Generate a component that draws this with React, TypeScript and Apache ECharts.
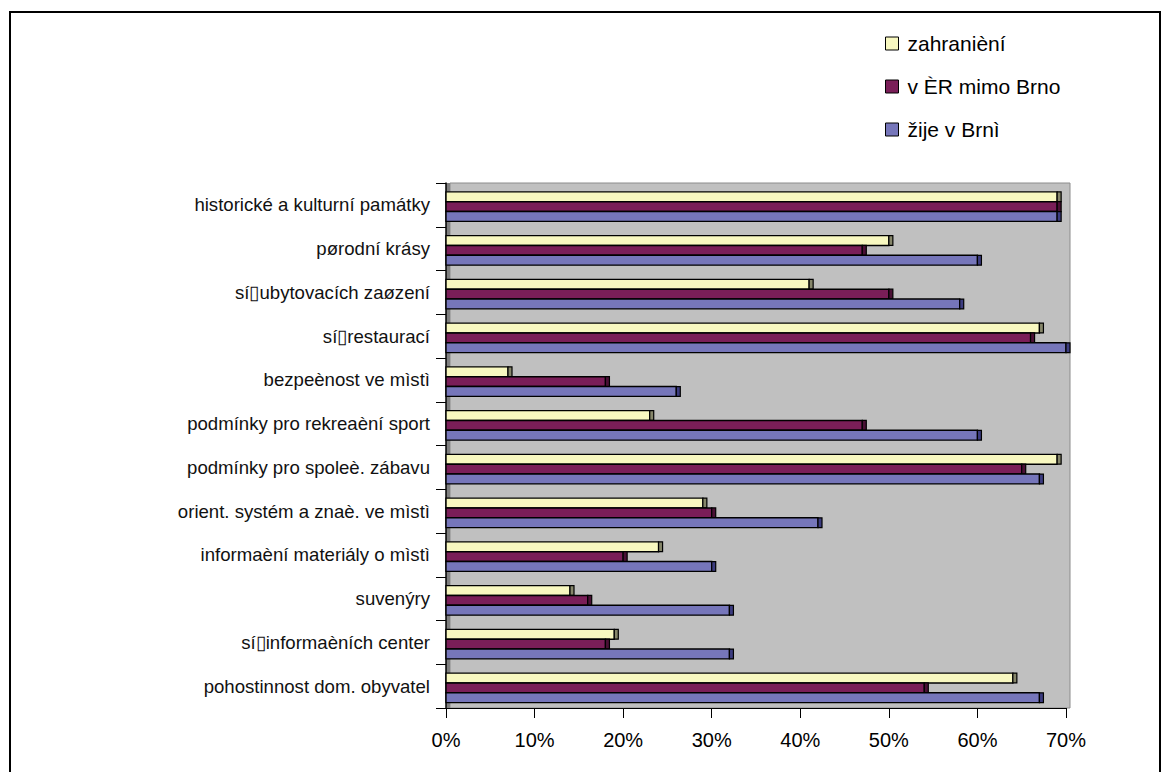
import React, { useEffect, useRef } from "react";
import * as echarts from "echarts";

// Categories, listed top to bottom
const categories = [
  "historické a kulturní památky",
  "pørodní krásy",
  "sí▯ubytovacích zaøzení",
  "sí▯restaurací",
  "bezpeènost ve mìstì",
  "podmínky pro rekreaèní sport",
  "podmínky pro spoleè. zábavu",
  "orient. systém a znaè. ve mìstì",
  "informaèní materiály o mìstì",
  "suvenýry",
  "sí▯informaèních center",
  "pohostinnost dom. obyvatel",
];

const seriesNames = ["zahranièní", "v ÈR mimo Brno", "žije v Brnì"];

// Share of respondents (%) per group
const abroad = [69, 50, 41, 67, 7, 23, 69, 29, 24, 14, 19, 64];
const czOutsideBrno = [69, 47, 50, 66, 18, 47, 65, 30, 20, 16, 18, 54];
const brnoResidents = [69, 60, 58, 70, 26, 60, 67, 42, 30, 32, 32, 67];

const xTicks = [0, 10, 20, 30, 40, 50, 60, 70];

const FONT = "'Liberation Sans', Arial, sans-serif";

const GRID = { left: 446, top: 183, right: 103, bottom: 64 };
const W = 1169;
const H = 772;

function makeRenderer(slot: number, capColor: string) {
  return (_params: any, api: any) => {
    const val = api.value(0);
    const cat = api.value(1);
    const start = api.coord([0, cat]);
    const end = api.coord([val, cat]);
    const band = api.size([0, 1])[1];
    const h = band * 0.225;
    const y = start[1] + band * 0.04 + (slot - 1.5) * h;
    return {
      type: "group",
      children: [
        {
          type: "rect",
          shape: { x: start[0], y, width: end[0] - start[0], height: h },
          style: { fill: api.visual("color"), stroke: "#000", lineWidth: 1.4 },
        },
        {
          type: "rect",
          shape: { x: end[0], y, width: 4, height: h },
          style: { fill: capColor, stroke: "#000", lineWidth: 1.2 },
        },
      ],
    };
  };
}

export default function App() {
  const ref = useRef<HTMLDivElement>(null);

  useEffect(() => {
    if (!ref.current) return;
    const chart = echarts.init(ref.current, undefined, { renderer: "svg" });

    const groups = [
      { name: seriesNames[0], data: abroad, color: "#f8f8c0", cap: "#86866a" },
      { name: seriesNames[1], data: czOutsideBrno, color: "#7a1e58", cap: "#4a1035" },
      { name: seriesNames[2], data: brnoResidents, color: "#7676ba", cap: "#3c3c80" },
    ];

    const plotRight = W - GRID.right;
    const plotBottom = H - GRID.bottom;

    chart.setOption({
      animation: false,
      textStyle: { fontFamily: FONT },
      graphic: [
        // outer frame
        {
          type: "rect",
          z: -5,
          shape: { x: 10, y: 12, width: 1150, height: 820 },
          style: { fill: "#fff", stroke: "#000", lineWidth: 2 },
        },
        // back wall of the plot
        {
          type: "rect",
          z: -1,
          shape: {
            x: GRID.left + 4,
            y: GRID.top,
            width: plotRight - GRID.left,
            height: plotBottom - GRID.top,
          },
          style: { fill: "#c0c0c0", stroke: "#8c8c8c", lineWidth: 1 },
        },
        // side wall
        {
          type: "rect",
          z: -1,
          shape: { x: GRID.left, y: GRID.top, width: 4, height: plotBottom - GRID.top },
          style: { fill: "#808080" },
        },
      ],
      legend: {
        orient: "vertical",
        left: 885,
        top: 33,
        padding: 0,
        itemWidth: 13,
        itemHeight: 13,
        itemGap: 22,
        icon: "rect",
        itemStyle: { borderColor: "#000", borderWidth: 1 },
        textStyle: {
          fontSize: 21,
          lineHeight: 21,
          color: "#000",
          fontFamily: FONT,
          padding: [0, 0, 0, 4],
        },
        data: seriesNames,
      },
      grid: {
        left: GRID.left,
        top: GRID.top,
        right: GRID.right,
        bottom: GRID.bottom,
        containLabel: false,
      },
      xAxis: {
        type: "value",
        min: xTicks[0],
        max: xTicks[xTicks.length - 1],
        interval: 10,
        axisLine: { show: true, lineStyle: { color: "#000", width: 1 } },
        axisTick: { show: true, length: 10, lineStyle: { color: "#000" } },
        splitLine: { show: false },
        axisLabel: {
          formatter: "{value}%",
          fontSize: 20,
          color: "#000",
          margin: 22,
          fontFamily: FONT,
        },
      },
      yAxis: {
        type: "category",
        inverse: true,
        data: categories,
        axisLine: { show: true, lineStyle: { color: "#000", width: 1.5 } },
        axisTick: {
          show: true,
          length: 10,
          alignWithLabel: false,
          lineStyle: { color: "#000" },
        },
        axisLabel: {
          fontSize: 18.6,
          color: "#111",
          margin: 16,
          fontFamily: FONT,
        },
        splitLine: { show: false },
      },
      series: groups.map((g, i) => ({
        type: "custom",
        name: g.name,
        itemStyle: { color: g.color },
        encode: { x: 0, y: 1 },
        data: g.data.map((v, idx) => [v, idx]),
        renderItem: makeRenderer(i, g.cap),
        z: 3,
      })),
    });

    return () => chart.dispose();
  }, []);

  return (
    <div
      style={{
        position: "fixed",
        left: 0,
        top: 0,
        width: W,
        height: H,
        background: "#fff",
      }}
    >
      <div ref={ref} style={{ width: W, height: H }} />
    </div>
  );
}
